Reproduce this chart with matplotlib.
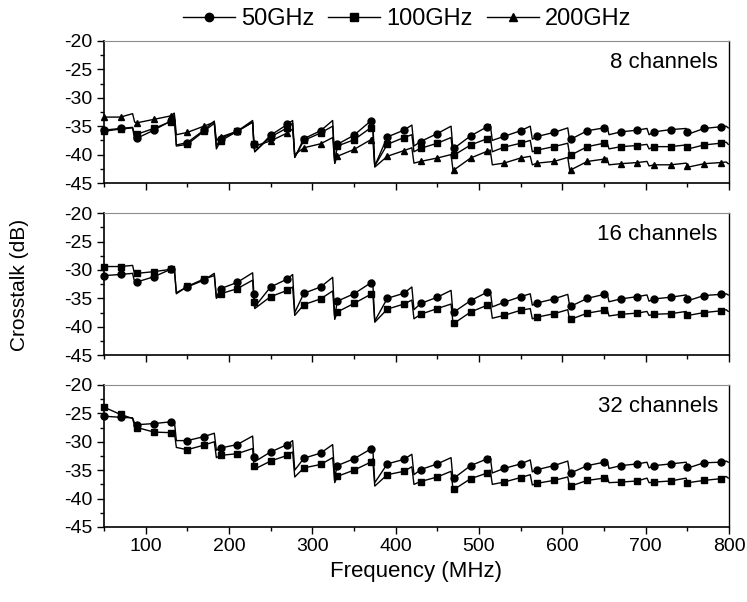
import numpy as np
import matplotlib
matplotlib.use("Agg")
import matplotlib.pyplot as plt
from matplotlib.lines import Line2D
from matplotlib.ticker import MultipleLocator

plt.rcParams['font.family'] = ['Liberation Sans', 'DejaVu Sans']
plt.rcParams['axes.unicode_minus'] = False

# marker frequencies (MHz)
MK_F = [50, 70, 90, 110, 130, 150, 170, 190, 210, 230, 250, 270, 290, 310, 330, 350, 370, 390, 410,
        430, 450, 470, 490, 510, 530, 550, 570, 590, 610, 630, 650, 670, 690, 710, 730, 750, 770, 790]
# frequencies where the sawtooth drops (MHz)
DROP_F = [85, 135, 183, 229, 277, 325, 373, 420, 467, 514, 562, 607, 654, 702, 749, 797]

# ---- 8 channels ----
p8_50 = [-35.7, -35.4, -37.1, -35.7, -34.1, -37.9, -35.7, -37.2, -35.9, -38.2, -36.6, -34.7, -37.2, -35.8, -38.2, -36.6, -34.1, -36.9, -35.7,
         -37.7, -36.3, -38.9, -36.7, -35.1, -36.8, -35.8, -36.8, -36.1, -37.3, -35.8, -35.3, -36.0, -35.7, -36.0, -35.6, -36.1, -35.4, -35.1]
p8_50_pk = [-35.2, -33.0, -34.1, -34.0, -34.0, -34.0, -33.8, -34.8, -35.0, -34.7, -35.0, -35.3, -35.0, -35.4, -35.4, -35.0]
p8_50_tr = [-37.5, -38.3, -38.5, -39.5, -40.5, -41.5, -42.0, -38.5, -39.5, -37.5, -37.3, -37.8, -36.5, -36.5, -36.4, -35.3]

p8_100 = [-35.9, -35.5, -36.4, -35.4, -34.2, -38.2, -35.9, -37.6, -35.9, -38.1, -36.9, -35.3, -37.5, -36.2, -38.5, -37.4, -35.3, -38.2, -37.0,
          -38.9, -38.0, -40.1, -38.3, -37.2, -38.7, -38.0, -39.2, -38.6, -40.1, -38.6, -38.0, -38.6, -38.4, -38.6, -38.6, -38.7, -38.3, -38.0]
p8_100_pk = [-35.3, -33.5, -34.5, -34.3, -34.5, -35.0, -35.0, -36.5, -37.0, -36.8, -37.5, -38.0, -37.8, -38.2, -38.3, -37.8]
p8_100_tr = [-36.5, -38.5, -39.0, -39.5, -40.5, -41.5, -42.0, -39.5, -40.5, -39.5, -39.5, -40.3, -39.0, -39.0, -39.0, -38.2]

p8_200 = [-33.4, -33.4, -34.4, -33.8, -33.2, -36.1, -35.0, -36.9, -35.9, -38.2, -37.6, -36.2, -38.8, -38.1, -40.3, -39.1, -37.4, -40.3, -39.3,
          -41.2, -40.6, -42.7, -40.6, -39.4, -41.5, -40.6, -41.5, -41.2, -42.7, -41.2, -40.8, -41.6, -41.4, -41.8, -41.8, -42.0, -41.6, -41.4]
p8_200_pk = [-32.8, -32.7, -34.3, -34.3, -35.5, -37.0, -37.0, -38.8, -40.0, -39.2, -40.3, -40.5, -40.6, -41.2, -41.5, -41.3]
p8_200_tr = [-34.3, -36.5, -37.5, -38.5, -40.0, -41.5, -42.2, -41.5, -42.9, -41.8, -41.8, -42.9, -41.8, -42.0, -42.2, -41.6]

# ---- 16 channels ----
p16_50 = [-31.0, -30.8, -32.1, -31.2, -29.9, -33.0, -31.8, -33.3, -32.2, -34.3, -33.0, -31.6, -34.1, -33.0, -35.5, -34.2, -32.3, -35.0, -34.1,
          -35.9, -34.8, -37.4, -35.4, -33.9, -35.7, -34.7, -35.8, -35.1, -36.4, -35.0, -34.3, -35.1, -34.7, -35.1, -34.8, -35.2, -34.5, -34.3]
p16_50_pk = [-30.6, -29.7, -30.6, -30.5, -30.8, -31.3, -31.8, -33.0, -33.6, -33.6, -34.2, -34.3, -34.0, -34.4, -34.4, -34.2]
p16_50_tr = [-32.2, -34.0, -34.8, -36.5, -37.5, -38.3, -39.0, -37.0, -38.0, -36.5, -36.2, -36.5, -35.6, -35.5, -35.4, -34.4]

p16_100 = [-29.4, -29.4, -30.6, -30.3, -29.9, -32.9, -31.6, -34.2, -33.3, -35.7, -34.7, -33.6, -36.1, -35.1, -37.4, -35.9, -34.3, -36.9, -36.0,
           -37.8, -36.8, -39.4, -37.4, -36.2, -38.0, -37.1, -38.3, -37.7, -38.7, -37.6, -37.1, -37.8, -37.6, -37.8, -37.7, -37.9, -37.5, -37.2]
p16_100_pk = [-29.2, -29.6, -31.0, -31.8, -33.0, -33.7, -33.8, -35.3, -36.0, -35.8, -36.8, -37.0, -36.8, -37.3, -37.3, -37.0]
p16_100_tr = [-30.8, -34.2, -35.0, -36.8, -38.0, -38.7, -39.2, -38.6, -39.6, -38.5, -38.6, -39.0, -38.1, -38.0, -38.0, -37.3]

# ---- 32 channels ----
p32_50 = [-25.5, -25.7, -27.0, -26.8, -26.5, -29.8, -29.1, -31.1, -30.5, -32.7, -31.8, -30.5, -32.9, -32.0, -34.2, -33.0, -31.3, -33.9, -33.1,
          -34.9, -33.9, -36.4, -34.2, -33.0, -34.7, -33.9, -34.9, -34.2, -35.5, -34.2, -33.6, -34.2, -33.9, -34.2, -33.9, -34.4, -33.7, -33.6]
p32_50_pk = [-25.8, -26.3, -28.5, -29.0, -29.8, -30.5, -30.8, -32.2, -32.8, -32.6, -33.2, -33.4, -33.2, -33.6, -33.6, -33.4]
p32_50_tr = [-26.8, -29.8, -31.5, -33.5, -35.0, -36.2, -37.2, -35.8, -37.0, -35.5, -35.3, -35.7, -34.7, -34.6, -34.6, -33.6]

p32_100 = [-23.9, -25.2, -27.5, -28.3, -28.4, -31.4, -30.6, -32.4, -32.1, -34.2, -33.4, -32.4, -34.6, -34.0, -36.1, -35.0, -33.6, -35.8, -35.2,
           -37.0, -36.2, -38.4, -36.5, -35.5, -37.1, -36.3, -37.3, -36.8, -37.8, -36.8, -36.4, -37.1, -36.9, -37.1, -36.9, -37.3, -36.8, -36.5]
p32_100_pk = [-25.9, -28.2, -30.0, -31.2, -31.8, -32.8, -33.0, -34.4, -35.2, -35.0, -35.8, -36.2, -36.0, -36.4, -36.4, -36.1]
p32_100_tr = [-27.3, -31.0, -32.8, -34.8, -36.2, -37.2, -37.8, -37.5, -38.6, -37.5, -37.6, -38.2, -37.2, -37.2, -37.2, -36.4]

LABELS = ["50GHz", "100GHz", "200GHz"]
MARKERS = ["o", "s", "^"]

panels = [
    ("8 channels", [(p8_50, p8_50_pk, p8_50_tr), (p8_100, p8_100_pk, p8_100_tr), (p8_200, p8_200_pk, p8_200_tr)]),
    ("16 channels", [(p16_50, p16_50_pk, p16_50_tr), (p16_100, p16_100_pk, p16_100_tr)]),
    ("32 channels", [(p32_50, p32_50_pk, p32_50_tr), (p32_100, p32_100_pk, p32_100_tr)]),
]


def saw_line(mk, pk, tr):
    # merge marker points with the points just before / after each drop
    xs = list(MK_F) + [d - 0.5 for d in DROP_F] + [d + 2 for d in DROP_F]
    ys = list(mk) + list(pk) + list(tr)
    order = np.argsort(xs, kind="stable")
    return np.array(xs)[order], np.array(ys)[order]


fig = plt.figure(figsize=(7.47, 6.02), dpi=100)
bottoms = [0.696, 0.410, 0.1246]
axes = []
for (title, series), b in zip(panels, bottoms):
    ax = fig.add_axes([0.139, b, 0.837, 0.236])
    for i, (mk, pk, tr) in enumerate(series):
        x, y = saw_line(mk, pk, tr)
        ax.plot(x, y, color="k", lw=1.0)
        ax.plot(MK_F, mk, ls="none", marker=MARKERS[i], color="k", ms=5, clip_on=False)
    ax.set_xlim(50, 800)
    ax.set_ylim(-45, -20)
    ax.yaxis.set_major_locator(MultipleLocator(5))
    ax.yaxis.set_minor_locator(MultipleLocator(2.5))
    ax.xaxis.set_major_locator(MultipleLocator(100))
    ax.xaxis.set_minor_locator(MultipleLocator(50))
    ax.tick_params(which="major", direction="out", length=5, width=1, labelsize=14, pad=3)
    ax.tick_params(which="minor", direction="out", length=3, width=1)
    ax.spines["top"].set_color("0.55")
    ax.spines["top"].set_linewidth(0.8)
    ax.spines["left"].set_linewidth(1.2)
    ax.spines["bottom"].set_linewidth(1.2)
    ax.spines["right"].set_linewidth(1.0)
    ax.text(0.982, 0.85, title, transform=ax.transAxes, ha="right", va="center", fontsize=16)
    axes.append(ax)

for ax in axes[:-1]:
    ax.tick_params(labelbottom=False)

axes[-1].set_xlabel("Frequency (MHz)", fontsize=16, labelpad=4)
fig.text(0.026, 0.527, "Crosstalk (dB)", rotation=90, ha="center", va="center", fontsize=15)

handles = [Line2D([], [], color="k", lw=1, marker=m, ms=6) for m in MARKERS]
fig.legend(handles, LABELS, loc="center", bbox_to_anchor=(0.545, 0.968), ncol=3, frameon=False,
           fontsize=17, handlelength=2.2, handletextpad=0.25, columnspacing=0.6)

fig.savefig("out.png", dpi=100)
